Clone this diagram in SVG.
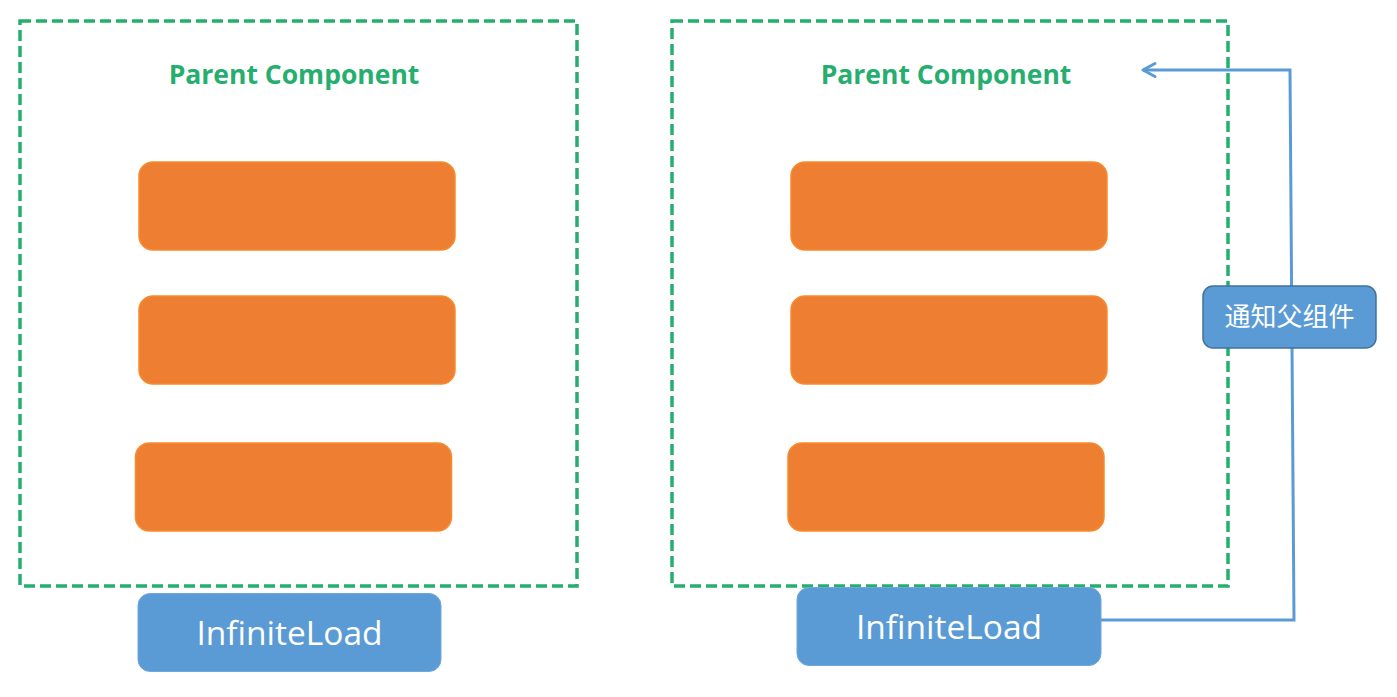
<svg xmlns="http://www.w3.org/2000/svg" width="1397" height="697" viewBox="0 0 1397 697">
<style>
.frame{fill:none;stroke:#25AE6E;stroke-width:3.5;stroke-dasharray:11 5}
.title{font-family:"Open Sans","Noto Sans","Liberation Sans",sans-serif;font-weight:bold;font-size:26.5px;fill:#25AE6E;text-anchor:middle}
.item{fill:#EE7F32;stroke:#F88A2E;stroke-width:1.5}
.load{fill:#5B9BD5;stroke:#6FA8DC;stroke-width:1}
.loadtxt{font-family:"Open Sans","Noto Sans","Liberation Sans",sans-serif;font-size:33.5px;fill:#FFFFFF;text-anchor:middle}
.conn{fill:none;stroke:#5B9BD5;stroke-width:3}
.tag{fill:#5B9BD5;stroke:#41719C;stroke-width:1.5}
.tagtxt{font-family:"Noto Sans CJK SC","Noto Sans",sans-serif;font-size:26px;fill:#FFFFFF;text-anchor:middle}
</style>
<defs>
<marker id="arr" markerWidth="18" markerHeight="18" refX="15" refY="9" orient="auto" markerUnits="userSpaceOnUse">
<path d="M3,2.5 L15,9 L3,15.5" fill="none" stroke="#5B9BD5" stroke-width="3" stroke-linecap="round" stroke-linejoin="round"/>
</marker>
</defs>
<rect width="1397" height="697" fill="#FFFFFF"/>
<g id="left-parent">
<rect class="frame" x="20" y="21" width="557" height="565"/>
<text class="title" x="294" y="84">Parent Component</text>
</g>
<g id="left-item1"><rect class="item" x="139" y="162" width="316" height="88" rx="14"/></g>
<g id="left-item2"><rect class="item" x="139" y="296" width="316" height="88" rx="14"/></g>
<g id="left-item3"><rect class="item" x="135.5" y="443" width="316" height="88" rx="14"/></g>
<g id="left-load">
<rect class="load" x="138" y="593.5" width="303" height="78" rx="12"/>
<text class="loadtxt" x="289.5" y="645">InfiniteLoad</text>
</g>
<g id="right-parent">
<rect class="frame" x="672" y="21" width="556" height="565"/>
<text class="title" x="946" y="84">Parent Component</text>
</g>
<g id="right-item1"><rect class="item" x="791" y="162" width="316" height="88" rx="14"/></g>
<g id="right-item2"><rect class="item" x="791" y="296" width="316" height="88" rx="14"/></g>
<g id="right-item3"><rect class="item" x="788" y="443" width="316" height="88" rx="14"/></g>
<g id="right-load">
<rect class="load" x="797" y="587.5" width="304" height="78" rx="12"/>
<text class="loadtxt" x="949" y="639">InfiniteLoad</text>
</g>
<g id="connectors">
<path class="conn" d="M1101,620 L1294,620 L1290,70 L1143,70" marker-end="url(#arr)"/>
</g>
<g id="notify-label">
<rect class="tag" x="1203" y="286" width="173" height="62" rx="10"/>
<text class="tagtxt" x="1289.5" y="326">通知父组件</text>
</g>
</svg>
